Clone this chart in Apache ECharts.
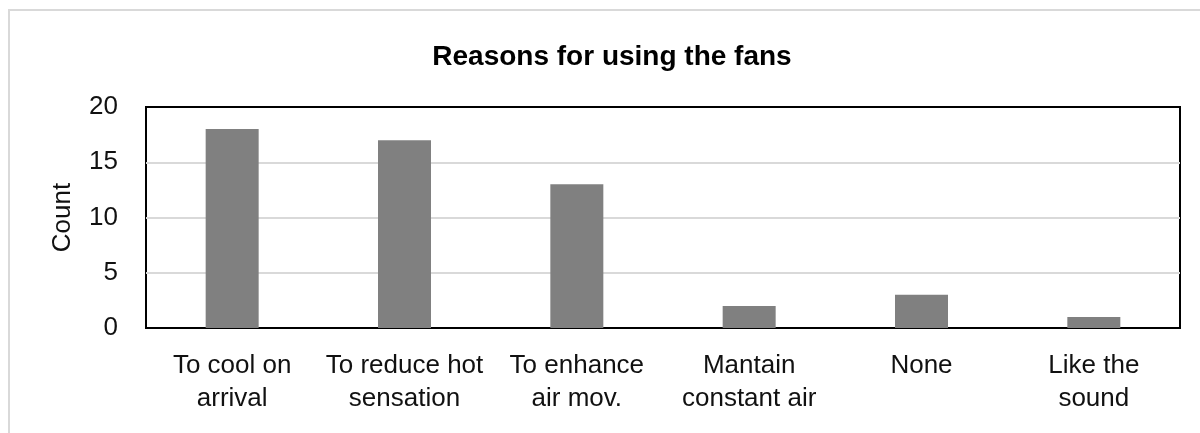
<!DOCTYPE html>
<html>
<head>
<meta charset="utf-8">
<script src="https://cdn.jsdelivr.net/npm/echarts@6/dist/echarts.min.js"></script>
<style>
  html, body { margin: 0; padding: 0; background: #fff; }
  #chart { width: 1200px; height: 433px; }
</style>
</head>
<body>
<div id="chart"></div>
<script>
// data
var reasons = ['To cool on\narrival', 'To reduce hot\nsensation', 'To enhance\nair mov.', 'Mantain\nconstant air', 'None', 'Like the\nsound'];
var counts = [18, 17, 13, 2, 3, 1];
var yTicks = [0, 5, 10, 15, 20];

var FONT = 'Liberation Sans';

var myChart = echarts.init(document.getElementById('chart'));

var option = {
    animation: false,
    title: {
        text: 'Reasons for using the fans',
        left: 607,
        top: 38,
        textAlign: 'center',
        textStyle: {
            fontFamily: FONT,
            fontSize: 28,
            fontWeight: 'bold',
            color: '#000'
        }
    },
    // light frame around the whole chart (cut off at right / bottom)
    graphic: [{
        type: 'rect',
        shape: { x: 9, y: 10, width: 1400, height: 600 },
        style: { fill: 'none', stroke: '#d9d9d9', lineWidth: 2 },
        silent: true
    }],
    grid: {
        left: 146,
        right: 20,
        top: 107,
        bottom: 105,
        show: true,
        borderColor: '#000',
        borderWidth: 2,
        backgroundColor: 'transparent'
    },
    xAxis: {
        type: 'category',
        data: reasons,
        axisLine: { show: true, lineStyle: { color: '#000', width: 2 } },
        axisTick: { show: false },
        axisLabel: {
            interval: 0,
            margin: 21,
            fontFamily: FONT,
            fontSize: 26,
            lineHeight: 33,
            color: '#111'
        }
    },
    yAxis: {
        type: 'value',
        min: yTicks[0],
        max: yTicks[yTicks.length - 1],
        interval: 5,
        name: 'Count',
        nameLocation: 'middle',
        nameGap: 70,
        nameTextStyle: {
            fontFamily: FONT,
            fontSize: 26,
            color: '#111'
        },
        axisLine: { show: false },
        axisTick: { show: false },
        axisLabel: {
            margin: 28,
            fontFamily: FONT,
            fontSize: 26,
            color: '#111'
        },
        splitLine: {
            showMinLine: false,
            showMaxLine: false,
            lineStyle: { color: '#d9d9d9', width: 2 }
        }
    },
    series: [
        {
            name: 'Count',
            type: 'bar',
            barWidth: 53,
            itemStyle: { color: '#808080' },
            data: counts
        }
    ]
};

myChart.setOption(option, true);
window.onresize = myChart.resize;
</script>
</body>
</html>
